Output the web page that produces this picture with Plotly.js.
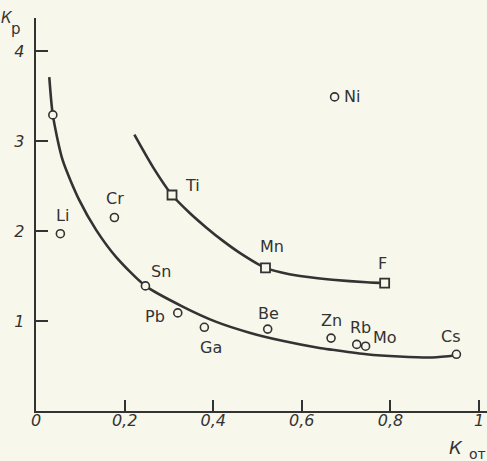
<!DOCTYPE html>
<html>
<head>
<meta charset="utf-8">
<script src="https://cdn.plot.ly/plotly-3.0.1.min.js"></script>
<style>
  html, body { margin: 0; padding: 0; background: #f8f7ec; }
  #chart { width: 487px; height: 461px; }
</style>
</head>
<body>
<div id="chart"></div>
<script>
// ---- data ----
// open circles (K_от, K_р)
const circleNames = ["", "Li", "Cr", "Sn", "Pb", "Ga", "Be", "Zn", "Rb", "Mo", "Cs", "Ni"];
const circleX = [0.038, 0.055, 0.177, 0.247, 0.320, 0.380, 0.523, 0.666, 0.724, 0.744, 0.949, 0.674];
const circleY = [3.29, 1.97, 2.15, 1.39, 1.09, 0.93, 0.91, 0.81, 0.74, 0.72, 0.63, 3.49];

// open squares
const squareNames = ["Ti", "Mn", "F"];
const squareX = [0.307, 0.518, 0.787];
const squareY = [2.40, 1.59, 1.42];

// lower curve
const lowerCurveX = [0.030, 0.038, 0.060, 0.098, 0.136, 0.181, 0.247, 0.331, 0.407, 0.482, 0.556, 0.640, 0.669, 0.746, 0.820, 0.895, 0.949];
const lowerCurveY = [3.71, 3.29, 2.79, 2.34, 2.01, 1.71, 1.39, 1.16, 0.99, 0.87, 0.78, 0.70, 0.68, 0.63, 0.605, 0.595, 0.62];

// upper curve
const upperCurveX = [0.222, 0.264, 0.307, 0.347, 0.384, 0.422, 0.459, 0.518, 0.572, 0.636, 0.669, 0.746, 0.787];
const upperCurveY = [3.07, 2.71, 2.40, 2.20, 2.04, 1.89, 1.76, 1.59, 1.52, 1.475, 1.458, 1.43, 1.42];

// axis ticks
const xTickVals = [0, 0.2, 0.4, 0.6, 0.8, 1];
const xTickText = ["0", "0,2", "0,4", "0,6", "0,8", "1"];
const yTickVals = [1, 2, 3, 4];
const yTickText = ["1", "2", "3", "4"];

// ---- styling ----
const ink = "#333333";
const bg = "#f8f7ec";
const labelFont = { family: "DejaVu Sans, sans-serif", size: 16, color: ink };
const tickFont = { family: "DejaVu Sans, sans-serif", size: 16, color: ink, style: "italic" };

// label offsets in pixels (xshift, yshift) for each marker label
const circleLabelShift = [[0,0],[2,18],[1,19],[16,14],[-23,-4],[7,-20],[1,16],[0,18],[4,17],[19,9],[-5,18],[17,0]];
const squareLabelShift = [[20,10],[7,21],[-2,20]];

const traces = [
  { x: lowerCurveX, y: lowerCurveY, mode: "lines", type: "scatter",
    line: { color: ink, width: 2.6, shape: "spline", smoothing: 0.7 }, hoverinfo: "skip" },
  { x: upperCurveX, y: upperCurveY, mode: "lines", type: "scatter",
    line: { color: ink, width: 2.6, shape: "spline", smoothing: 0.7 }, hoverinfo: "skip" },
  { x: circleX, y: circleY, mode: "markers", type: "scatter",
    marker: { symbol: "circle", size: 8, color: bg, line: { color: ink, width: 1.6 } } },
  { x: squareX, y: squareY, mode: "markers", type: "scatter",
    marker: { symbol: "square", size: 9, color: bg, line: { color: ink, width: 1.8 } } }
];

const annotations = [];
circleNames.forEach((n, i) => {
  if (!n) return;
  annotations.push({ x: circleX[i], y: circleY[i], text: n, showarrow: false,
    xshift: circleLabelShift[i][0], yshift: circleLabelShift[i][1], font: labelFont });
});
squareNames.forEach((n, i) => {
  annotations.push({ x: squareX[i], y: squareY[i], text: n, showarrow: false,
    xshift: squareLabelShift[i][0], yshift: squareLabelShift[i][1], font: labelFont });
});
// axis titles: K_р (top left) and K_от (bottom right)
const titleFont = { family: "DejaVu Sans, sans-serif", size: 15, color: ink, style: "italic" };
annotations.push({ xref: "paper", yref: "paper", x: -0.064, y: 1.0, text: "К",
  showarrow: false, xanchor: "center", yanchor: "middle", font: titleFont });
annotations.push({ xref: "paper", yref: "paper", x: -0.045, y: 0.972, text: "р",
  showarrow: false, xanchor: "center", yanchor: "middle",
  font: { family: "DejaVu Sans, sans-serif", size: 15, color: ink } });
annotations.push({ xref: "paper", yref: "paper", x: 0.931, y: -0.093, text: "К",
  showarrow: false, xanchor: "center", yanchor: "middle",
  font: { family: "DejaVu Sans, sans-serif", size: 18, color: ink, style: "italic" } });
annotations.push({ xref: "paper", yref: "paper", x: 0.979, y: -0.109, text: "от",
  showarrow: false, xanchor: "center", yanchor: "middle",
  font: { family: "DejaVu Sans, sans-serif", size: 14, color: ink } });

const layout = {
  width: 487, height: 461,
  margin: { l: 36, r: 0, t: 18, b: 50, pad: 0 },
  paper_bgcolor: bg, plot_bgcolor: bg,
  showlegend: false,
  separators: ",.",
  xaxis: {
    range: [0, 1.018], showgrid: false, zeroline: false,
    showline: true, linecolor: ink, linewidth: 2.4,
    ticks: "inside", ticklen: 11, tickwidth: 2, tickcolor: ink,
    tickvals: xTickVals, ticktext: xTickText, tickfont: tickFont,
    ticklabelstandoff: -7
  },
  yaxis: {
    range: [0, 4.367], showgrid: false, zeroline: false,
    showline: true, linecolor: ink, linewidth: 2.4,
    ticks: "inside", ticklen: 12, tickwidth: 2, tickcolor: ink,
    tickvals: yTickVals, ticktext: yTickText, tickfont: tickFont,
    ticklabelstandoff: 6
  },
  annotations: annotations
};

Plotly.newPlot("chart", traces, layout, { staticPlot: true, displayModeBar: false });
</script>
</body>
</html>
